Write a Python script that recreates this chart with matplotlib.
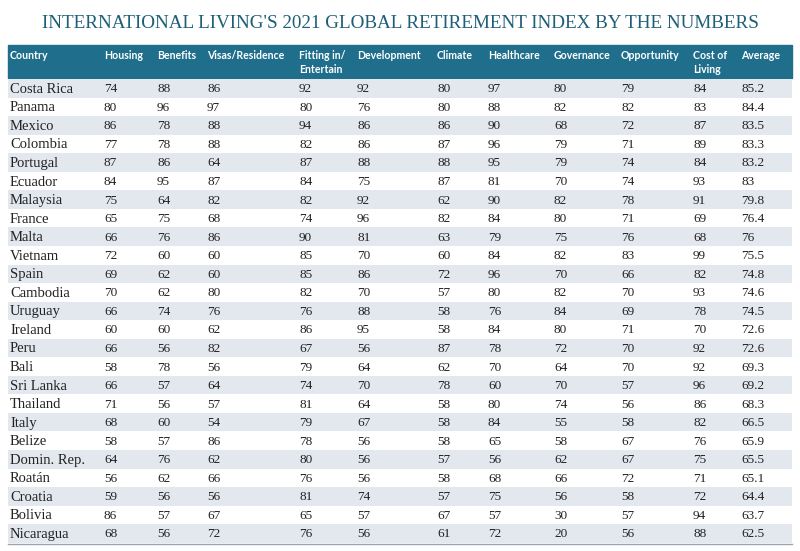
import matplotlib.pyplot as plt
from matplotlib.patches import Rectangle

title = "INTERNATIONAL LIVING'S 2021 GLOBAL RETIREMENT INDEX BY THE NUMBERS"
headers = ["Country", "Housing", "Benefits", "Visas/Residence", "Fitting in/\nEntertain",
           "Development", "Climate", "Healthcare", "Governance", "Opportunity",
           "Cost of\nLiving", "Average"]
countries = ["Costa Rica", "Panama", "Mexico", "Colombia", "Portugal", "Ecuador", "Malaysia",
             "France", "Malta", "Vietnam", "Spain", "Cambodia", "Uruguay", "Ireland", "Peru",
             "Bali", "Sri Lanka", "Thailand", "Italy", "Belize", "Domin. Rep.", "Roatán",
             "Croatia", "Bolivia", "Nicaragua"]
housing = [74, 80, 86, 77, 87, 84, 75, 65, 66, 72, 69, 70, 66, 60, 66, 58, 66, 71, 68, 58, 64, 56, 59, 86, 68]
benefits = [88, 96, 78, 78, 86, 95, 64, 75, 76, 60, 62, 62, 74, 60, 56, 78, 57, 56, 60, 57, 76, 62, 56, 57, 56]
visas = [86, 97, 88, 88, 64, 87, 82, 68, 86, 60, 60, 80, 76, 62, 82, 56, 64, 57, 54, 86, 62, 66, 56, 67, 72]
fitting = [92, 80, 94, 82, 87, 84, 82, 74, 90, 85, 85, 82, 76, 86, 67, 79, 74, 81, 79, 78, 80, 76, 81, 65, 76]
development = [92, 76, 86, 86, 88, 75, 92, 96, 81, 70, 86, 70, 88, 95, 56, 64, 70, 64, 67, 56, 56, 56, 74, 57, 56]
climate = [80, 80, 86, 87, 88, 87, 62, 82, 63, 60, 72, 57, 58, 58, 87, 62, 78, 58, 58, 58, 57, 58, 57, 67, 61]
healthcare = [97, 88, 90, 96, 95, 81, 90, 84, 79, 84, 96, 80, 76, 84, 78, 70, 60, 80, 84, 65, 56, 68, 75, 57, 72]
governance = [80, 82, 68, 79, 79, 70, 82, 80, 75, 82, 70, 82, 84, 80, 72, 64, 70, 74, 55, 58, 62, 66, 56, 30, 20]
opportunity = [79, 82, 72, 71, 74, 74, 78, 71, 76, 83, 66, 70, 69, 71, 70, 70, 57, 56, 58, 67, 67, 72, 58, 57, 56]
cost_living = [84, 83, 87, 89, 84, 93, 91, 69, 68, 99, 82, 93, 78, 70, 92, 92, 96, 86, 82, 76, 75, 71, 72, 94, 88]
average = ["85.2", "84.4", "83.5", "83.3", "83.2", "83", "79.8", "76.4", "76", "75.5", "74.8", "74.6",
           "74.5", "72.6", "72.6", "69.3", "69.2", "68.3", "66.5", "65.9", "65.5", "65.1", "64.4",
           "63.7", "62.5"]

columns = [countries, housing, benefits, visas, fitting, development, climate,
           healthcare, governance, opportunity, cost_living, average]
col_x = [10, 104, 157, 207, 299, 357, 437, 488, 554, 621, 693, 741]

fig = plt.figure(figsize=(8, 5.51), dpi=100)
ax = fig.add_axes([0, 0, 1, 1])
ax.set_xlim(0, 800)
ax.set_ylim(551, 0)
ax.axis('off')

teal = '#1f6e8c'
ax.text(400, 23, title, ha='center', va='center', fontsize=13.8,
        family='Liberation Serif', color='#1d5f78')

# naglowek
ax.add_patch(Rectangle((8, 45), 784, 33, color=teal))
for x, h in zip(col_x, headers):
    ax.text(x, 50, h, ha='left', va='top', fontsize=7.6, family='Lato',
            fontweight='bold', color='white', linespacing=1.3)

row_h = 18.55
top = 79
for i in range(len(countries)):
    y0 = top + i * row_h
    if i % 2 == 0:
        ax.add_patch(Rectangle((8, y0), 784, row_h, color='#e3e8ef', lw=0))
    for j, (x, col) in enumerate(zip(col_x, columns)):
        ax.text(x, y0 + row_h / 2 + 1, str(col[i]), ha='left', va='center',
                fontsize=10.5 if j == 0 else 9.5, family='Liberation Serif',
                color='#222222')

ax.plot([8, 792], [top + 25 * row_h + 1] * 2, color='#9aa5b1', lw=1)

fig.savefig('out.png', dpi=100)
